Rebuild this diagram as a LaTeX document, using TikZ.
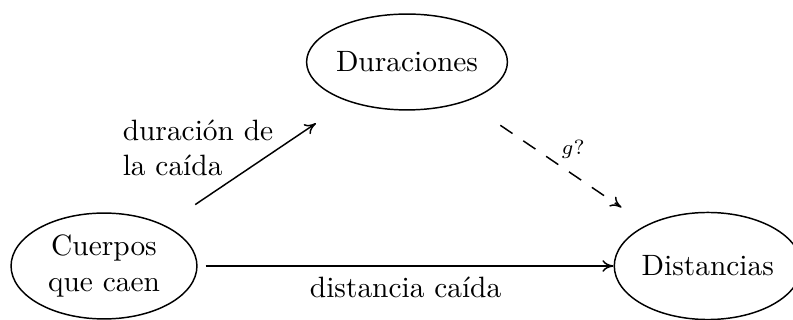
\documentclass[tikz,border=0pt]{standalone}
\usepackage{tikz}
\usetikzlibrary{shapes.geometric, positioning, arrows.meta}

\begin{document}
\begin{tikzpicture} [
      x=0.34pt, y=-0.34pt,
      line width=0.5pt,
      >={To[length=3.8pt, width=4pt]},
      state/.style={ellipse, draw=black, inner sep=0pt, align=center},
      flow/.style={->, shorten <=12.5pt, shorten >=13.2pt},
      guess/.style={->, dash pattern=on 5pt off 4.4pt, shorten <=14.3pt, shorten >=10.4pt},
      note/.style={align=left, inner sep=0pt}
  ]
  \useasboundingbox (0,0) rectangle (793,320);
  \node[state, minimum width=63.2pt, minimum height=36pt] (cuerpos) at (104,266) {Cuerpos\\que caen};
  \node[state, minimum width=63.6pt, minimum height=32.6pt] (duraciones) at (407,62) {Duraciones};
  \node[state, minimum width=61.2pt, minimum height=36.4pt, right=141.4pt of cuerpos] (distancias) {Distancias};
  \node[note] (caida) at (198,148) {duración de\\la caída};

  \draw[flow] (cuerpos) -- (duraciones);
  \draw[guess] (duraciones) -- node[midway, above right, inner sep=1.5pt] {\scriptsize$g?$} (distancias);
  \draw[->, shorten <=2.7pt] (cuerpos.east) -- node[midway, below] {distancia caída} (distancias.west);
  \end{tikzpicture}
\end{document}
